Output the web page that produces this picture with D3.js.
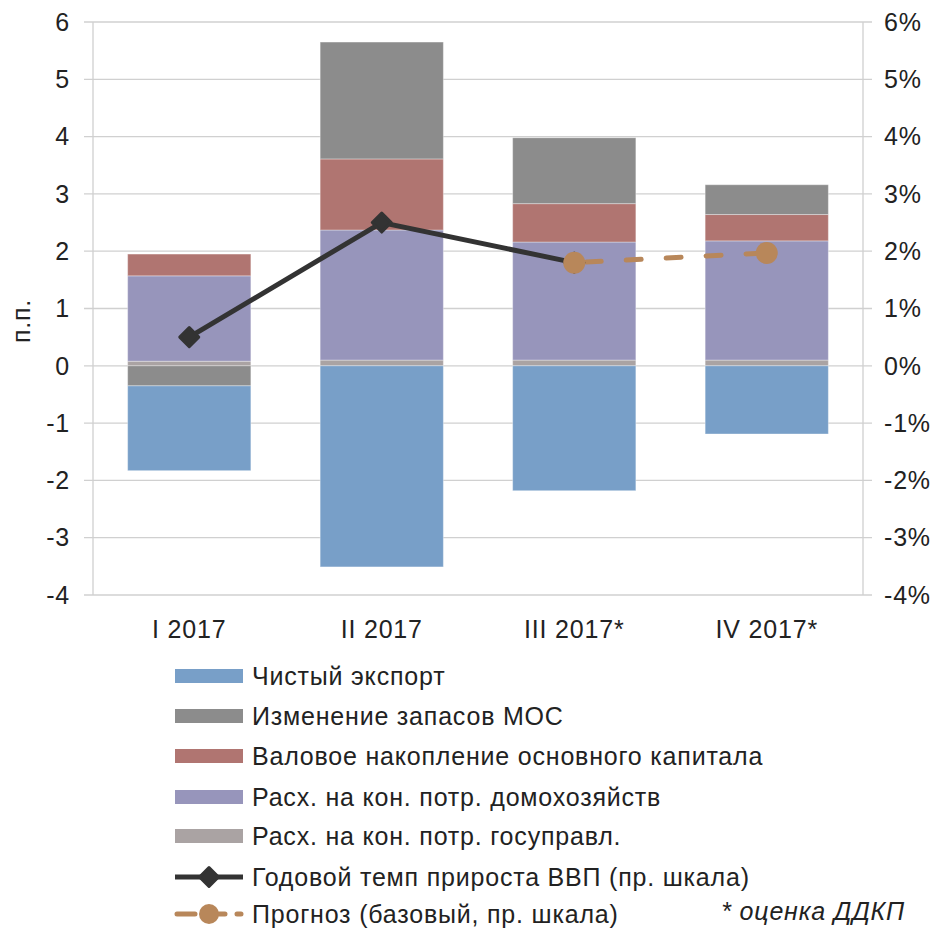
<!DOCTYPE html>
<html>
<head>
<meta charset="utf-8">
<script src="https://cdn.jsdelivr.net/npm/d3@7"></script>
<style>
  body { margin: 0; background: #fff; }
  svg { font-family: "Liberation Sans", Arial, sans-serif; letter-spacing: 0.8px; }
</style>
</head>
<body>
<svg id="chart" width="937" height="928"></svg>
<script>
// quarters
var quarters = ["I 2017", "II 2017", "III 2017*", "IV 2017*"];

// contributions, p.p.
var netExport = [-1.48, -3.51, -2.18, -1.19];
var stocks = [-0.35, 2.04, 1.15, 0.52];
var fixedCapital = [0.38, 1.24, 0.67, 0.46];
var households = [1.49, 2.27, 2.06, 2.08];
var government = [0.08, 0.1, 0.1, 0.1];

// GDP growth, % (right axis)
var gdpGrowth = [0.5, 2.5, 1.8];
var forecast = [null, null, 1.8, 1.97];

var leftTicks = [-4, -3, -2, -1, 0, 1, 2, 3, 4, 5, 6];
var rightTicks = [-4, -3, -2, -1, 0, 1, 2, 3, 4, 5, 6];

var series = [
  { name: "Чистый экспорт", values: netExport, color: "#789fc8" },
  { name: "Изменение запасов МОС", values: stocks, color: "#8c8c8c" },
  { name: "Валовое накопление основного капитала", values: fixedCapital, color: "#b07571" },
  { name: "Расх. на кон. потр. домохозяйств", values: households, color: "#9795bb" },
  { name: "Расх. на кон. потр. госуправл.", values: government, color: "#aaa3a3" }
];

var fs = 25;
var svg = d3.select("#chart");
var plotL = 93, plotR = 863, plotT = 22, plotB = 595;

var x = d3.scaleBand().domain(quarters).range([plotL, plotR]).paddingInner(0.36).paddingOuter(0.18);
var y = d3.scaleLinear().domain([-4, 6]).range([plotB, plotT]);
var y2 = d3.scaleLinear().domain([-4, 6]).range([plotB, plotT]);

// gridlines
svg.append("g")
  .selectAll("line")
  .data(leftTicks)
  .join("line")
  .attr("x1", plotL - 9)
  .attr("x2", plotR + 9)
  .attr("y1", d => y(d))
  .attr("y2", d => y(d))
  .attr("stroke", "#d0d0d0")
  .attr("stroke-width", 1.3);

// stacked bars: positives and negatives stacked separately, gov at the bottom
var barData = [];
quarters.forEach(function (q, i) {
  var pos = 0, neg = 0;
  [4, 3, 2, 1, 0].forEach(function (s) {
    var v = series[s].values[i];
    var y0, y1;
    if (v >= 0) { y0 = pos; y1 = pos + v; pos = y1; }
    else { y0 = neg; y1 = neg + v; neg = y1; }
    barData.push({ q: q, y0: y0, y1: y1, color: series[s].color });
  });
});

svg.append("g")
  .selectAll("rect")
  .data(barData)
  .join("rect")
  .attr("x", d => x(d.q))
  .attr("width", x.bandwidth())
  .attr("y", d => y(Math.max(d.y0, d.y1)))
  .attr("height", d => Math.abs(y(d.y0) - y(d.y1)))
  .attr("fill", d => d.color)
  .attr("stroke", "rgba(255,255,255,0.35)")
  .attr("stroke-width", 1);

// axis lines
svg.append("line").attr("x1", plotL).attr("x2", plotL).attr("y1", plotT).attr("y2", plotB)
  .attr("stroke", "#d0d0d0").attr("stroke-width", 1.3);
svg.append("line").attr("x1", plotR).attr("x2", plotR).attr("y1", plotT).attr("y2", plotB)
  .attr("stroke", "#d0d0d0").attr("stroke-width", 1.3);

// left ticks
svg.append("g")
  .selectAll("text")
  .data(leftTicks)
  .join("text")
  .attr("x", 70)
  .attr("y", d => y(d))
  .attr("dy", "0.35em")
  .attr("text-anchor", "end")
  .attr("font-size", fs)
  .attr("fill", "#222")
  .text(d => d);

// right ticks
svg.append("g")
  .selectAll("text")
  .data(rightTicks)
  .join("text")
  .attr("x", 884)
  .attr("y", d => y2(d))
  .attr("dy", "0.35em")
  .attr("text-anchor", "start")
  .attr("font-size", fs)
  .attr("fill", "#222")
  .text(d => d + "%");

// x labels
svg.append("g")
  .selectAll("text")
  .data(quarters)
  .join("text")
  .attr("x", d => x(d) + x.bandwidth() / 2)
  .attr("y", 638)
  .attr("text-anchor", "middle")
  .attr("font-size", fs)
  .attr("fill", "#222")
  .text(d => d);

// y label
svg.append("text")
  .attr("transform", "translate(30,321) rotate(-90)")
  .attr("text-anchor", "middle")
  .attr("font-size", fs)
  .attr("fill", "#222")
  .text("п.п.");

var cx = d => x(d) + x.bandwidth() / 2;

// forecast line
var fData = quarters.map((q, i) => ({ q: q, v: forecast[i] })).filter(d => d.v !== null);
svg.append("path")
  .datum(fData)
  .attr("fill", "none")
  .attr("stroke", "#b8875a")
  .attr("stroke-width", 5)
  .attr("stroke-dasharray", "15,25")
  .attr("stroke-dashoffset", -12)
  .attr("stroke-linecap", "round")
  .attr("d", d3.line().x(d => cx(d.q)).y(d => y2(d.v)));

// gdp line
var gData = gdpGrowth.map((v, i) => ({ q: quarters[i], v: v }));
svg.append("path")
  .datum(gData)
  .attr("fill", "none")
  .attr("stroke", "#333333")
  .attr("stroke-width", 5)
  .attr("d", d3.line().x(d => cx(d.q)).y(d => y2(d.v)));

svg.append("g")
  .selectAll("path")
  .data(gData)
  .join("path")
  .attr("transform", d => `translate(${cx(d.q)},${y2(d.v)})`)
  .attr("d", d3.symbol(d3.symbolDiamond2, 230))
  .attr("fill", "#333333")
  .attr("stroke", "#333333")
  .attr("stroke-width", 3)
  .attr("stroke-linejoin", "round");

svg.append("g")
  .selectAll("circle")
  .data(fData)
  .join("circle")
  .attr("cx", d => cx(d.q))
  .attr("cy", d => y2(d.v))
  .attr("r", 11)
  .attr("fill", "#b8875a");

// legend
var legend = svg.append("g");
var rowY = [676, 716, 756, 797, 836, 877, 914];
series.forEach(function (s, i) {
  legend.append("rect")
    .attr("x", 175).attr("y", rowY[i] - 7).attr("width", 68).attr("height", 14)
    .attr("fill", s.color);
  legend.append("text")
    .attr("x", 252).attr("y", rowY[i]).attr("dy", "0.35em")
    .attr("font-size", fs).attr("fill", "#222").text(s.name);
});

legend.append("line")
  .attr("x1", 175).attr("x2", 243).attr("y1", rowY[5]).attr("y2", rowY[5])
  .attr("stroke", "#333333").attr("stroke-width", 5);
legend.append("path")
  .attr("transform", `translate(209,${rowY[5]})`)
  .attr("d", d3.symbol(d3.symbolDiamond2, 230))
  .attr("fill", "#333333").attr("stroke", "#333333").attr("stroke-width", 3)
  .attr("stroke-linejoin", "round");
legend.append("text")
  .attr("x", 252).attr("y", rowY[5]).attr("dy", "0.35em")
  .attr("font-size", fs).attr("fill", "#222").text("Годовой темп прироста ВВП (пр. шкала)");

legend.append("line")
  .attr("x1", 177).attr("x2", 241).attr("y1", rowY[6]).attr("y2", rowY[6])
  .attr("stroke", "#b8875a").attr("stroke-width", 5)
  .attr("stroke-dasharray", "18,12").attr("stroke-linecap", "round");
legend.append("circle")
  .attr("cx", 209).attr("cy", rowY[6]).attr("r", 10).attr("fill", "#b8875a");
legend.append("text")
  .attr("x", 252).attr("y", rowY[6]).attr("dy", "0.35em")
  .attr("font-size", fs).attr("fill", "#222").text("Прогноз (базовый, пр. шкала)");

svg.append("text")
  .attr("x", 905).attr("y", 911).attr("dy", "0.35em")
  .attr("text-anchor", "end").attr("font-size", fs).attr("font-style", "italic")
  .attr("fill", "#222").text("* оценка ДДКП");
</script>
</body>
</html>
